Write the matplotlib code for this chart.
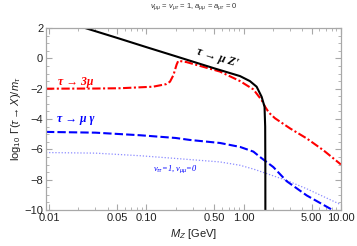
import numpy as np
import matplotlib
matplotlib.use("Agg")
import matplotlib.pyplot as plt
from matplotlib.ticker import FixedLocator, NullFormatter, MultipleLocator

plt.rcParams['font.family'] = ['Liberation Sans', 'DejaVu Sans']
plt.rcParams['mathtext.fontset'] = 'custom'
plt.rcParams['mathtext.rm'] = 'Liberation Sans'
plt.rcParams['mathtext.it'] = 'Liberation Sans:italic'

# tau -> mu Z'
mz_black = [0.0235, 0.05, 0.1, 0.2, 0.5, 0.75, 0.918, 1.16, 1.36, 1.53, 1.64, 1.665, 1.671, 1.673]
g_black = [2.0, 1.35, 0.74, 0.14, -0.66, -1.0, -1.17, -1.5, -1.87, -2.53, -3.19, -4.5, -7.0, -10.5]

# tau -> 3 mu
mz_red = [0.0093, 0.03, 0.054, 0.117, 0.16, 0.175, 0.19, 0.197, 0.205, 0.213, 0.26, 0.571, 0.918,
          1.26, 1.53, 1.66, 1.82, 2.1, 3.0, 4.45, 6.6, 10.0]
g_red = [-2.0, -1.99, -1.97, -1.87, -1.7, -1.54, -1.1, -0.76, -0.4, -0.16, -0.25, -0.87, -1.5,
         -2.05, -2.75, -3.19, -3.58, -3.95, -4.62, -5.28, -6.06, -7.0]

# tau -> mu gamma
mz_blue = [0.0093, 0.03, 0.086, 0.2, 0.28, 0.571, 0.918, 1.26, 1.47, 2.02, 2.77, 4.45, 8.36, 10.0]
g_blue = [-4.85, -4.9, -5.07, -5.25, -5.38, -5.58, -5.84, -6.15, -6.5, -7.17, -8.1, -9.04, -10.03, -10.4]

# tau -> mu gamma, v_tautau = 1, v_mumu = 0
mz_dot = [0.0093, 0.03, 0.086, 0.2, 0.571, 0.918, 1.26, 1.73, 2.77, 4.45, 10.0]
g_dot = [-6.21, -6.25, -6.42, -6.6, -6.83, -7.05, -7.3, -7.6, -8.05, -8.6, -9.65]

xticks = [0.01, 0.05, 0.10, 0.50, 1.00, 5.00, 10.00]
xticklabels = ["0.01", "0.05", "0.10", "0.50", "1.00", "5.00", "10.00"]
yticks = [-10, -8, -6, -4, -2, 0, 2]

fig = plt.figure(figsize=(3.57, 2.46), dpi=100)
ax = fig.add_axes([0.1289, 0.1463, 0.8261, 0.7398])

ax.plot(mz_dot, g_dot, color=(0.55, 0.55, 1.0), lw=0.9, ls=(0, (1, 1.5)))
ax.plot(mz_blue, g_blue, color=(0, 0, 1), lw=1.5, ls=(0, (4, 1.5)))
ax.plot(mz_red, g_red, color=(1, 0, 0), lw=1.5, ls=(0, (4, 1.2, 1, 1.2)))
ax.plot(mz_black, g_black, color='black', lw=1.5)

ax.set_xscale('log')
ax.set_xlim(0.00931, 10.0)
ax.set_ylim(-10, 2)

ax.xaxis.set_major_locator(FixedLocator(xticks))
ax.set_xticklabels(xticklabels)
minors = [m * 10.0**e for e in (-2, -1, 0) for m in range(2, 10)]
ax.xaxis.set_minor_locator(FixedLocator(minors))
ax.xaxis.set_minor_formatter(NullFormatter())
ax.set_yticks(yticks)
ax.set_yticklabels([("\u2212%d" % -t) if t < 0 else str(t) for t in yticks])
ax.yaxis.set_minor_locator(MultipleLocator(0.5))

gray = '#a8a8a8'
for s in ax.spines.values():
    s.set_color(gray)
    s.set_linewidth(0.9)
ax.tick_params(which='both', direction='in', top=True, right=True, color=gray,
               labelsize=8, labelcolor='#222222', pad=2)
ax.tick_params(which='major', length=4, width=0.8)
ax.tick_params(which='minor', length=2, width=0.6)

ax.set_xlabel(r"$M_Z$ [GeV]", fontsize=8, color='#222222', labelpad=3)
ax.set_ylabel(r"$\log_{10}\,\Gamma(\tau\rightarrow X)/m_\tau$", fontsize=8, color='#222222', labelpad=1)

serif = ['Liberation Serif', 'DejaVu Serif']
ax.text(0.0186, -1.56, "τ → 3μ", color='red', fontsize=8.5, family=serif, style='italic',
        weight='bold', ha='center', va='center')
ax.text(0.019, -4.0, "τ → μ γ", color='blue', fontsize=8.5, family=serif, style='italic',
        weight='bold', ha='center', va='center')
ax.text(0.53, 0.05, "τ → μ Z'", color='black', fontsize=8.5, family=serif, style='italic',
        weight='bold', ha='center', va='center', rotation=-17)
ax.text(0.2, -7.32, "v$_{ττ}$=1, v$_{μμ}$=0", color='blue', fontsize=6,
        family=serif, style='italic', ha='center', va='center')

fig.text(0.542, 0.972, r"$v_{\mu\mu}$ = $v_{\mu\tau}$ = 1, $a_{\mu\mu}$ = $a_{\mu\tau}$ = 0",
         fontsize=5.5, color='#333333', ha='center', va='center')

fig.savefig("out.png", dpi=100)
